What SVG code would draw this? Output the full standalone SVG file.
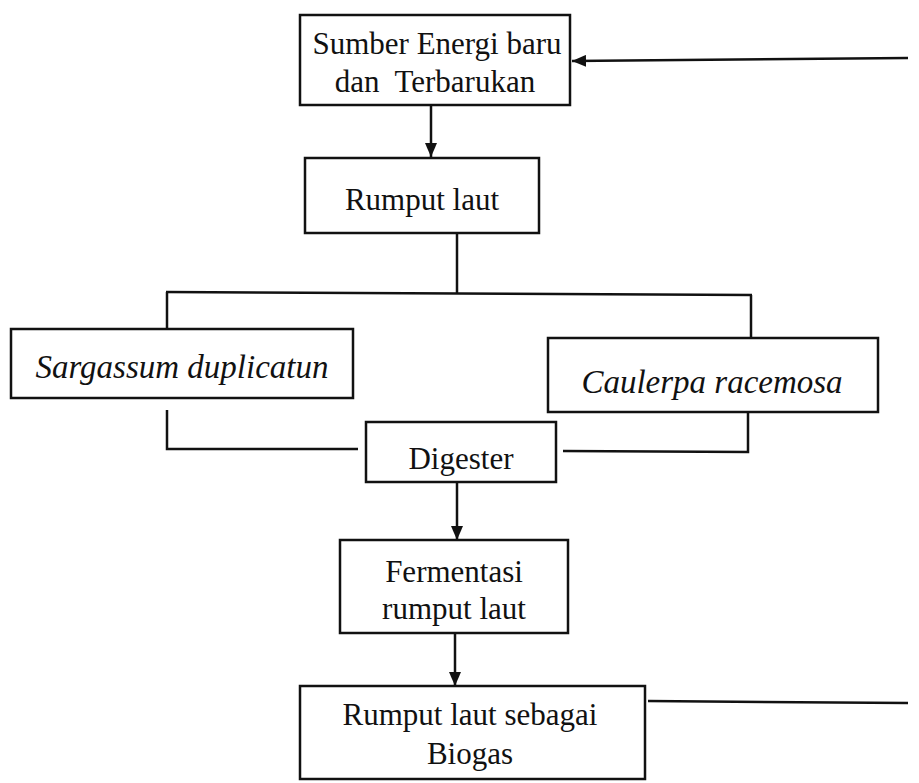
<svg xmlns="http://www.w3.org/2000/svg" width="919" height="783" viewBox="0 0 919 783">
<style>
.box{fill:#fff;stroke:#111;stroke-width:2.5}
.ln{fill:none;stroke:#111;stroke-width:2.5}
.t{font-family:"Liberation Serif","Times New Roman",serif;font-size:31px;fill:#111;text-anchor:middle;white-space:pre}
.i{font-style:italic;font-size:33px}
</style>
<defs>
<marker id="ah" viewBox="0 0 14 12" refX="14" refY="6" markerWidth="14" markerHeight="12" markerUnits="userSpaceOnUse" orient="auto">
<path d="M0,0 L14,6 L0,12 Z" fill="#111"/>
</marker>
</defs>
<rect width="919" height="783" fill="#fff"/>
<g id="connectors">
<line class="ln" x1="908" y1="58" x2="572" y2="61" marker-end="url(#ah)"/>
<line class="ln" x1="431" y1="105" x2="431" y2="157" marker-end="url(#ah)"/>
<polyline class="ln" points="457,233 457,293"/>
<polyline class="ln" points="166,292 752,295"/>
<polyline class="ln" points="167,292 167,329"/>
<polyline class="ln" points="751,295 751,338"/>
<polyline class="ln" points="167,410 167,449 358,449"/>
<polyline class="ln" points="563,451 748,452 748,412"/>
<line class="ln" x1="457" y1="482" x2="457" y2="540" marker-end="url(#ah)"/>
<line class="ln" x1="455" y1="633" x2="455" y2="686" marker-end="url(#ah)"/>
<line class="ln" x1="648" y1="701" x2="908" y2="703"/>
</g>
<g id="n1">
<rect class="box" x="300" y="15" width="270" height="90"/>
<text class="t" x="437" y="54">Sumber Energi baru</text>
<text class="t" x="435" y="92">dan  Terbarukan</text>
</g>
<g id="n2">
<rect class="box" x="305" y="158" width="234" height="75"/>
<text class="t" x="422" y="210">Rumput laut</text>
</g>
<g id="n3">
<rect class="box" x="11" y="329" width="342" height="69"/>
<text class="t i" x="182" y="378">Sargassum duplicatun</text>
</g>
<g id="n4">
<rect class="box" x="548" y="338" width="330" height="74"/>
<text class="t i" x="712" y="393">Caulerpa racemosa</text>
</g>
<g id="n5">
<rect class="box" x="366" y="422" width="190" height="60"/>
<text class="t" x="461" y="469">Digester</text>
</g>
<g id="n6">
<rect class="box" x="340" y="540" width="228" height="93"/>
<text class="t" x="454" y="582">Fermentasi</text>
<text class="t" x="454" y="619">rumput laut</text>
</g>
<g id="n7">
<rect class="box" x="300" y="686" width="345" height="93"/>
<text class="t" x="470" y="725">Rumput laut sebagai</text>
<text class="t" x="470" y="764">Biogas</text>
</g>
</svg>
